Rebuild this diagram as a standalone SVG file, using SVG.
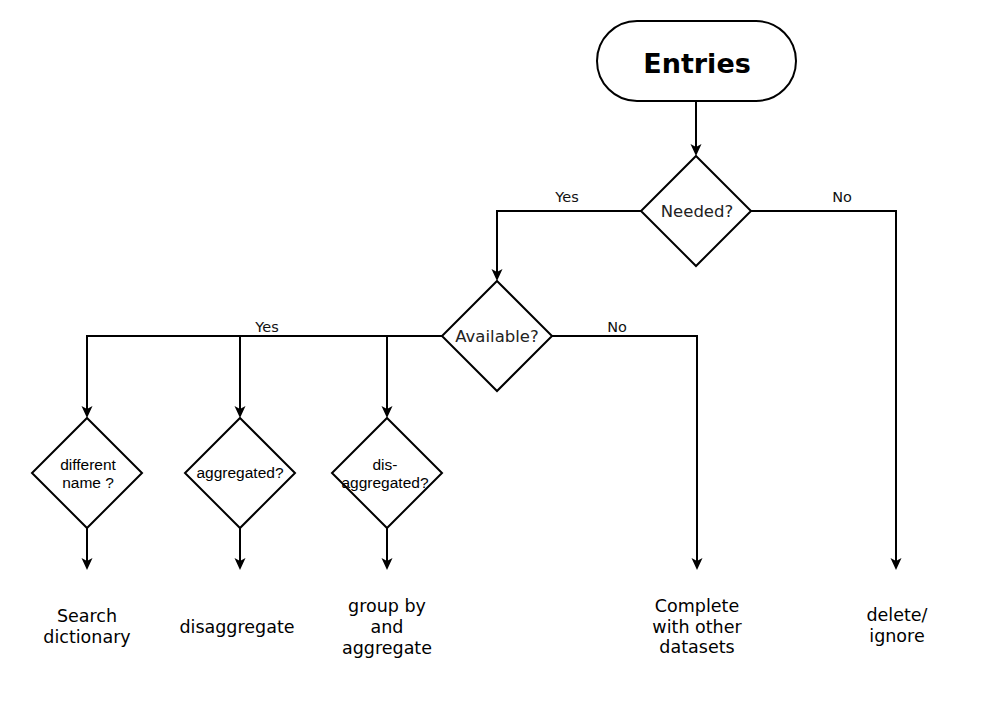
<svg xmlns="http://www.w3.org/2000/svg" width="983" height="706" viewBox="0 0 983 706">
<defs>
<style>
.shape{fill:#ffffff;stroke:#000000;stroke-width:2}
.edge{fill:none;stroke:#000000;stroke-width:2;marker-end:url(#arr)}
.dv{font-family:"DejaVu Sans",Verdana,sans-serif;fill:#000000;text-anchor:middle}
.ar{font-family:"Liberation Sans",Arial,sans-serif;fill:#000000;text-anchor:middle;font-size:15.5px}
.lbl{font-size:14.5px;fill:#111111}
.q{font-size:16.5px;fill:#222222}
.out{font-size:17.5px}
</style>
<marker id="arr" markerWidth="14" markerHeight="14" refX="9" refY="5.5" orient="auto" markerUnits="userSpaceOnUse">
<path d="M0,0 L12,5.5 L0,11 L3,5.5 Z" fill="#000000"/>
</marker>
</defs>
<rect width="983" height="706" fill="#ffffff"/>
<g id="connectors">
<path class="edge" d="M696,101 V153"/>
<path class="edge" d="M641,211 H497 V278"/>
<text class="dv lbl" x="567" y="202">Yes</text>
<path class="edge" d="M751,211 H896 V567"/>
<text class="dv lbl" x="842" y="202">No</text>
<path class="edge" d="M552,336 H697 V567"/>
<text class="dv lbl" x="617" y="332">No</text>
<path class="edge" d="M442,336 H87 V415"/>
<path class="edge" d="M240,336 V415"/>
<path class="edge" d="M387,336 V415"/>
<text class="dv lbl" x="267" y="332">Yes</text>
<path class="edge" d="M87,528 V567"/>
<path class="edge" d="M240,528 V567"/>
<path class="edge" d="M387,528 V567"/>
</g>
<g id="entries">
<rect class="shape" x="597" y="21" width="199" height="80" rx="40" ry="40"/>
<text class="dv" x="697" y="73" font-size="27px" font-weight="bold">Entries</text>
</g>
<g id="needed">
<polygon class="shape" points="696,156 751,211 696,266 641,211"/>
<text class="dv q" x="697" y="217">Needed?</text>
</g>
<g id="available">
<polygon class="shape" points="497,281 552,336 497,391 442,336"/>
<text class="dv q" x="497" y="342">Available?</text>
</g>
<g id="different-name">
<polygon class="shape" points="87,418 142,473 87,528 32,473"/>
<text class="ar" x="88" y="470">different</text>
<text class="ar" x="88" y="488">name ?</text>
</g>
<g id="aggregated">
<polygon class="shape" points="240,418 295,473 240,528 185,473"/>
<text class="ar" x="240" y="478">aggregated?</text>
</g>
<g id="dis-aggregated">
<polygon class="shape" points="387,418 442,473 387,528 332,473"/>
<text class="ar" x="385" y="470">dis-</text>
<text class="ar" x="385" y="488">aggregated?</text>
</g>
<g id="search-dictionary">
<text class="dv out" x="87" y="622">Search</text>
<text class="dv out" x="87" y="643">dictionary</text>
</g>
<g id="disaggregate">
<text class="dv out" x="237" y="633">disaggregate</text>
</g>
<g id="group-by">
<text class="dv out" x="387" y="612">group by</text>
<text class="dv out" x="387" y="633">and</text>
<text class="dv out" x="387" y="654">aggregate</text>
</g>
<g id="complete">
<text class="dv out" x="697" y="612">Complete</text>
<text class="dv out" x="697" y="633">with other</text>
<text class="dv out" x="697" y="653">datasets</text>
</g>
<g id="delete-ignore">
<text class="dv out" x="897" y="621">delete/</text>
<text class="dv out" x="897" y="642">ignore</text>
</g>
</svg>
